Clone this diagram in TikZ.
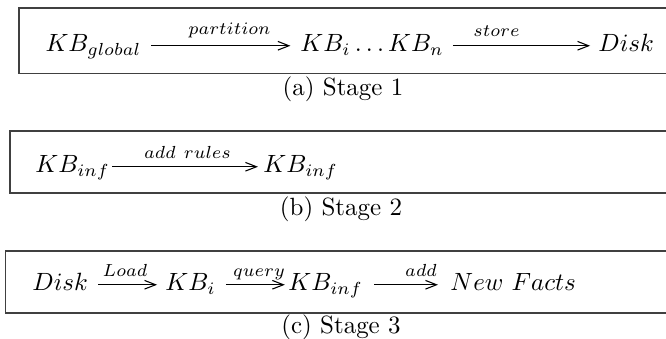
\documentclass[tikz,border=0pt]{standalone}
\usetikzlibrary{arrows.meta}
\begin{document}
\begin{tikzpicture}[x=0.41667pt, y=-0.41667pt,
  term/.style={inner sep=0pt, anchor=base west, text height=7pt, text depth=2pt, scale=1.04},
  lbl/.style={inner sep=0pt, anchor=base, scale=1.04},
  captext/.style={inner sep=0pt, anchor=base, scale=1.04},
  arr/.style={-{Straight Barb[length=4.6pt,width=3.6pt]}, line width=0.45pt},
  frame/.style={draw=black!75, line width=0.6pt}]
\useasboundingbox (0,0) rectangle (666,339);
% frames
\draw[frame] (666,8) -- (19,8) -- (19,73.5) -- (666,73.5);
\draw[frame] (666,131) -- (10,131) -- (10,193) -- (666,193);
\draw[frame] (666,251) -- (5.5,251) -- (5.5,313) -- (666,313);
% row a
\node[term] (kbg) at (45,52) {$KB_{global}$};
\node[term] (kbs) at (300,52) {$KB_i\ldots KB_n$};
\node[term] (disk) at (598,52) {$Disk$};
\draw[arr, shorten <=4pt, shorten >=4pt] (kbg) -- (kbs);
\draw[arr, shorten <=3.6pt, shorten >=3.3pt] (kbs) -- (disk);
\node[lbl] (lpart) at (229.5,35) {$\scriptstyle partition$};
\node[lbl] (lstore) at (496.5,37) {$\scriptstyle store$};
\node[captext] (capa) at (343,96) {(a) Stage 1};
% row b
\node[term] (kbi1) at (35,173) {$KB_{inf}$};
\node[term] (kbi2) at (263,173) {$KB_{inf}$};
\draw[arr, shorten <=0.8pt, shorten >=2.1pt] (kbi1) -- (kbi2);
\node[lbl] (lrules) at (187.5,159) {$\scriptstyle add\ rules$};
\node[captext] (capb) at (341,216) {(b) Stage 2};
% row c
\node[term] (dk) at (32,291) {$Disk$};
\node[term] (kbi) at (165,291) {$KB_i$};
\node[term] (kbinf) at (288,291) {$KB_{inf}$};
\node[term] (nf) at (450,291) {$New\ Facts$};
\draw[arr, shorten <=4pt, shorten >=3.3pt] (dk) -- (kbi);
\draw[arr, shorten <=4pt, shorten >=1.3pt] (kbi) -- (kbinf);
\draw[arr, shorten <=4.6pt, shorten >=5pt] (kbinf) -- (nf);
\node[lbl] (lload) at (125,277) {$\scriptstyle Load$};
\node[lbl] (lquery) at (259,277) {$\scriptstyle query$};
\node[lbl] (ladd) at (421,277) {$\scriptstyle add$};
\node[captext] (capc) at (341,334) {(c) Stage 3};
\end{tikzpicture}
\end{document}
